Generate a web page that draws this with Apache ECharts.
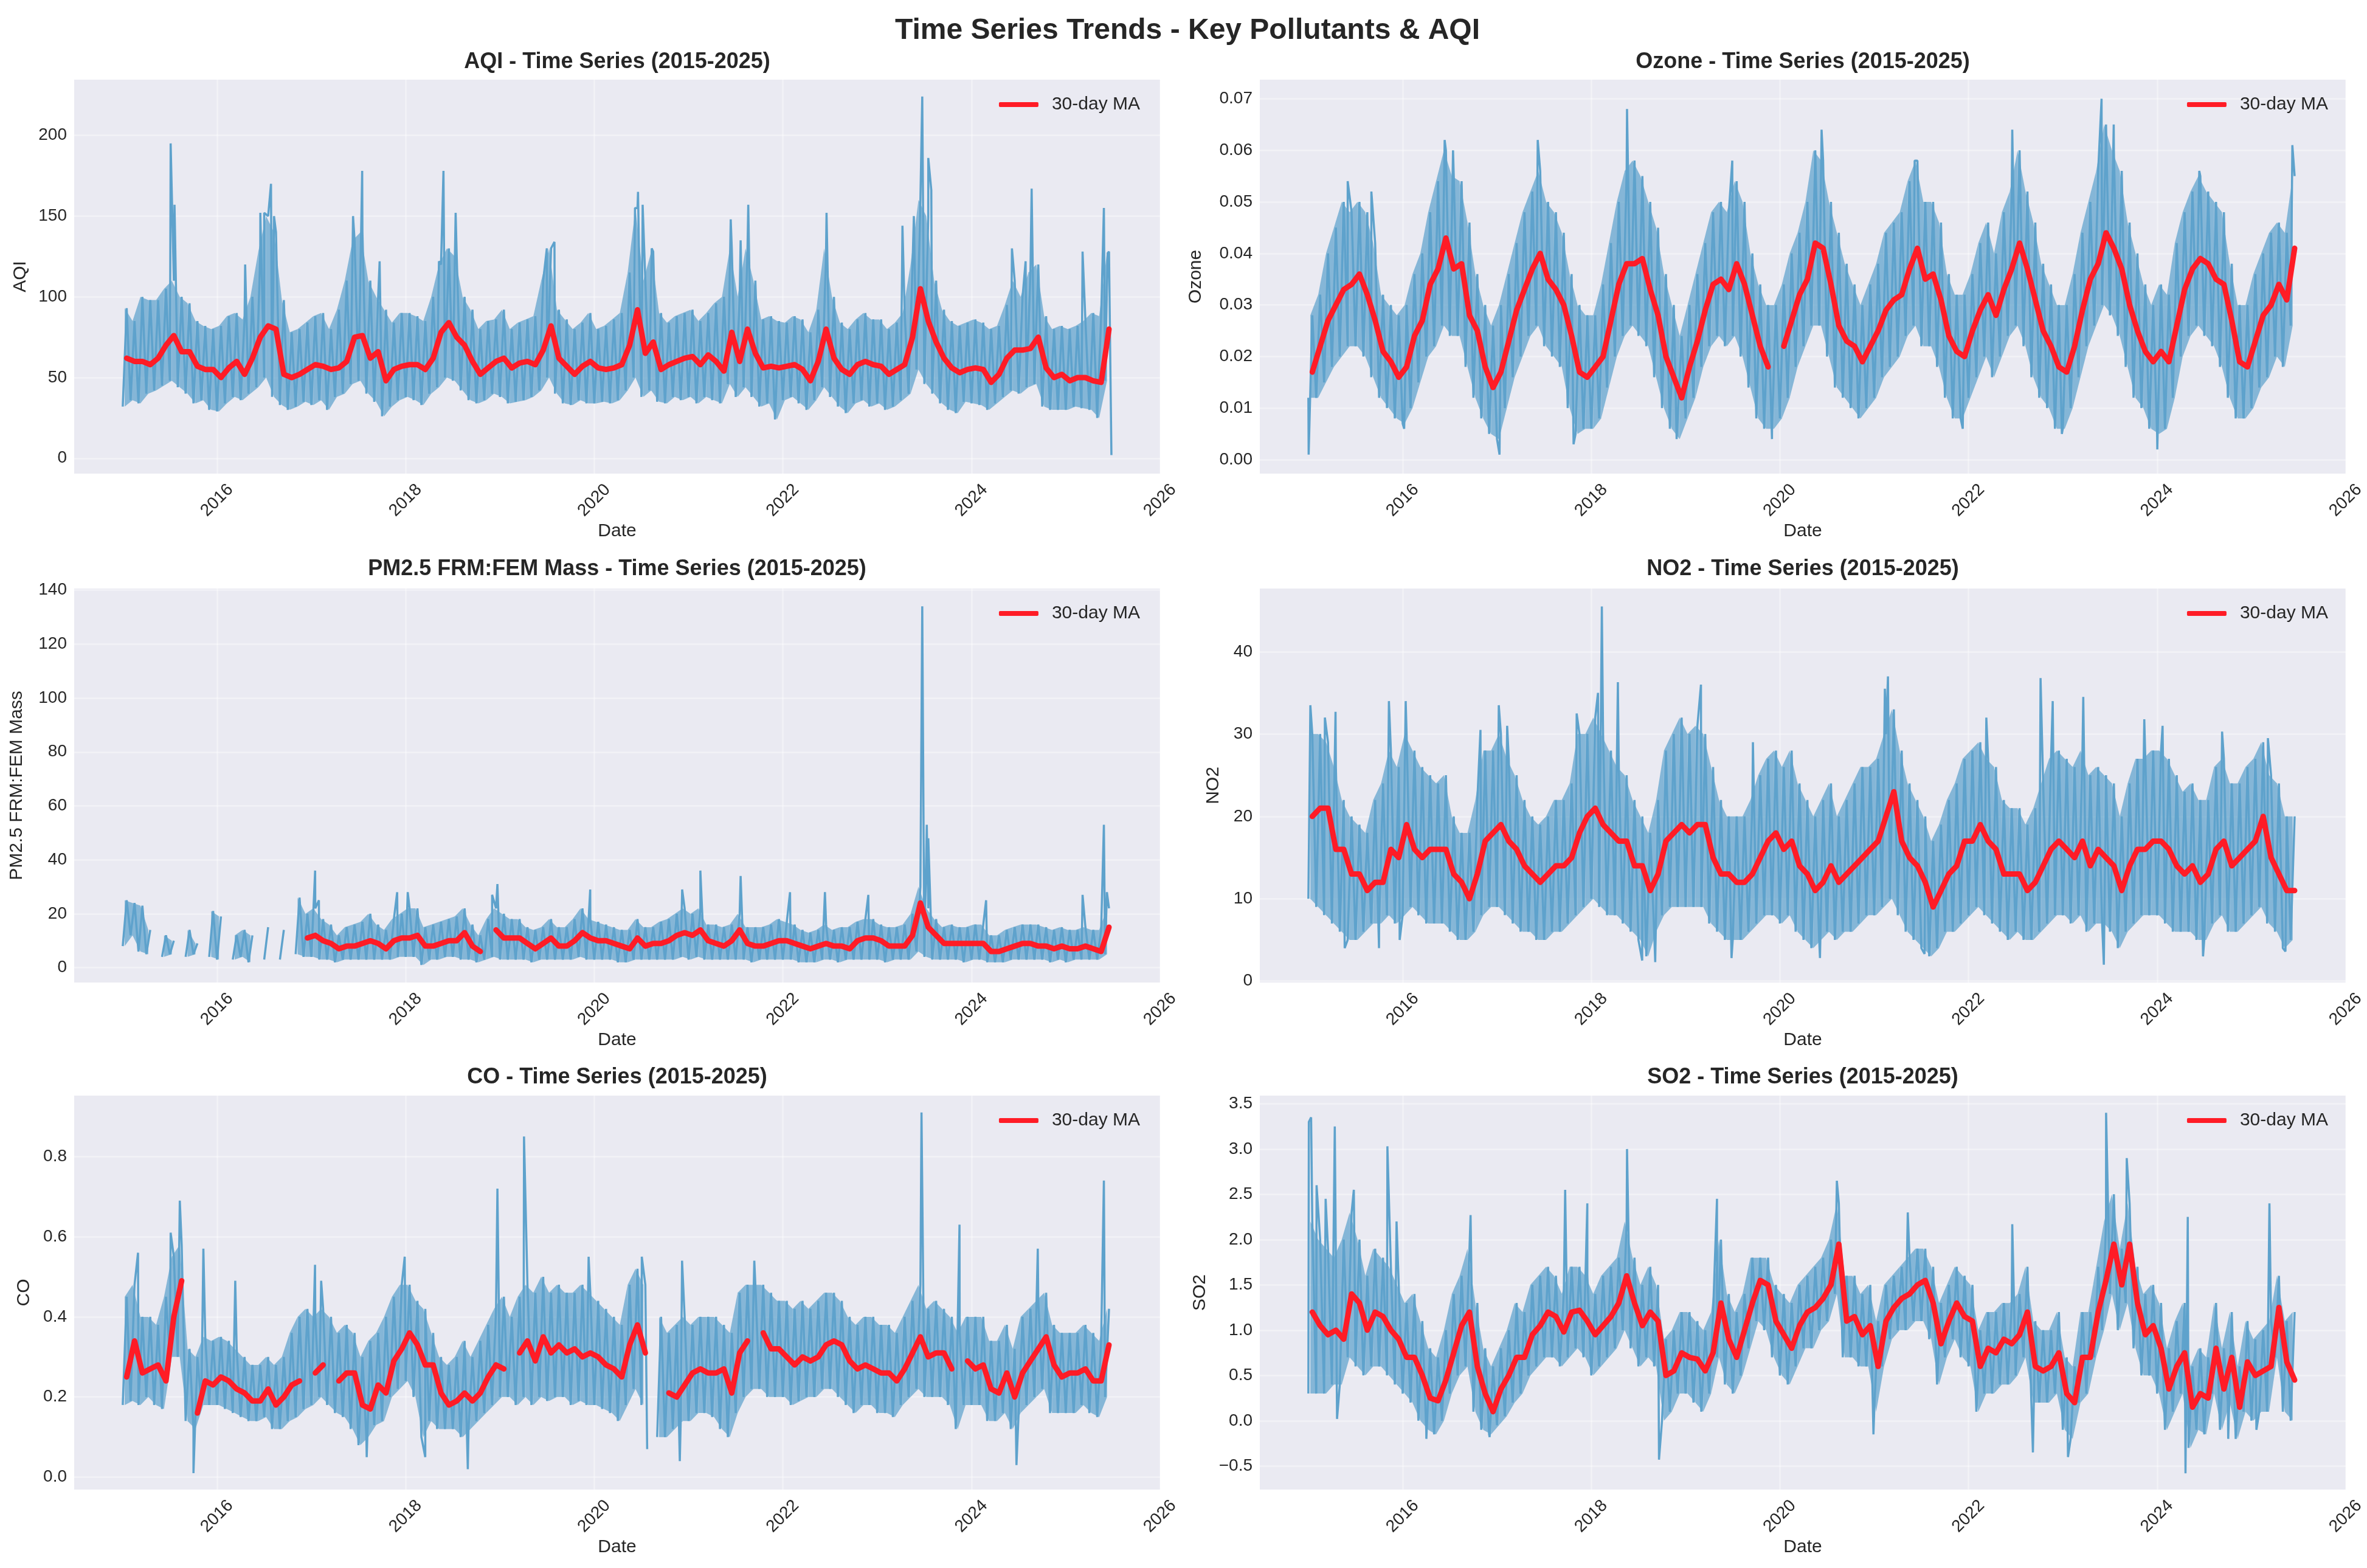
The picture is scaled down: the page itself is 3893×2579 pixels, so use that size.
<!DOCTYPE html>
<html>
<head>
<meta charset="utf-8">
<title>Time Series Trends - Key Pollutants & AQI</title>
<script src="https://cdn.jsdelivr.net/npm/echarts@6/dist/echarts.min.js"></script>
<style>
  html, body { margin: 0; padding: 0; background: #ffffff; }
  #chart { width: 3893px; height: 2579px; }
</style>
</head>
<body>
<div id="chart"></div>
<script>
// Daily records summarised month by month, Jan 2015 .. Jun 2025 (126 months):
// low / high of the daily band, the 30-day moving average, and the odd spikes.
const startYear = 2015;
const yearTicks = [2016, 2018, 2020, 2022, 2024, 2026];

// AQI
const aqiLow = [
  32,36,34,40,42,45,48,44,40,34,36,30,
  29,34,38,36,40,44,50,38,33,30,32,35,
  33,36,30,38,40,46,48,40,35,26,32,36,
  38,36,33,40,44,50,48,42,36,34,36,40,
  38,34,35,36,38,42,50,40,34,33,36,34,
  34,35,34,36,42,50,38,42,35,34,38,36,
  38,34,38,36,34,46,38,44,38,32,34,24,
  36,38,34,30,36,44,38,32,28,34,36,32,
  34,30,32,36,40,55,46,40,34,30,28,35,
  34,33,30,34,38,42,40,44,46,32,30,30,
  30,32,31,30,25,48];
const aqiHigh = [
  93,85,100,98,98,105,110,100,96,85,82,80,
  82,88,90,86,100,128,150,140,98,78,80,84,
  88,90,80,92,110,135,140,110,100,92,84,90,
  90,88,85,100,120,130,125,100,92,80,85,86,
  92,80,84,86,88,110,130,92,86,80,84,90,
  80,82,86,90,115,155,110,128,90,84,88,90,
  92,85,90,96,100,130,100,130,110,86,88,85,
  84,88,86,78,92,130,100,84,80,86,90,86,
  86,80,84,90,120,160,150,110,92,85,82,84,
  86,84,80,82,95,110,100,115,120,88,80,82,
  80,82,85,90,88,128];
const aqiMA = [
  62,60,60,58,62,70,76,66,66,57,55,55,
  50,56,60,52,62,75,82,80,52,50,52,55,
  58,57,55,56,60,75,76,62,66,48,55,57,
  58,58,55,62,78,84,75,70,60,52,56,60,
  62,56,59,60,58,67,82,62,57,52,57,60,
  56,55,56,58,70,92,65,72,55,58,60,62,
  63,58,64,60,54,78,60,80,65,56,57,56,
  57,58,55,48,60,80,62,55,52,58,60,58,
  57,52,55,58,75,105,85,72,62,56,53,55,
  56,55,47,52,62,67,67,68,75,56,50,52,
  48,50,50,48,47,80];
const aqiSpikes = [
  [2015.508,195],[2015.549,157],[2016.298,120],[2016.459,152],[2016.5,152],[2016.572,170],
  [2016.604,150],[2017.442,150],[2017.539,178],[2017.724,122],[2018.353,122],[2018.401,178],
  [2018.53,152],[2019.497,130],[2019.578,134],[2020.432,155],[2020.464,165],[2020.513,157],
  [2020.609,130],[2021.447,148],[2021.552,135],[2021.633,157],[2022.463,152],[2023.268,144],
  [2023.389,150],[2023.478,224],[2023.542,186],[2023.574,166],[2024.429,130],[2024.574,122],
  [2024.638,167],[2025.178,128],[2025.404,155],[2025.444,127],[2025.484,2]];
const aqiTicks = [0, 50, 100, 150, 200];

// Ozone
const ozoneLow = [
  .012,.012,.015,.018,.020,.022,.022,.020,.016,.012,.010,.008,
  .007,.010,.015,.020,.022,.026,.024,.024,.018,.012,.008,.005,
  .004,.010,.016,.020,.024,.026,.022,.020,.018,.010,.005,.006,
  .006,.008,.014,.020,.024,.026,.024,.022,.016,.010,.006,.004,
  .008,.012,.018,.022,.024,.022,.024,.020,.014,.008,.006,.006,
  .008,.012,.018,.022,.026,.026,.020,.014,.012,.010,.008,.010,
  .012,.016,.018,.020,.024,.026,.022,.022,.018,.012,.008,.008,
  .012,.016,.020,.016,.020,.024,.026,.022,.016,.012,.010,.006,
  .006,.010,.016,.022,.026,.030,.028,.024,.018,.012,.010,.006,
  .005,.006,.012,.020,.024,.026,.024,.022,.018,.012,.008,.008,
  .010,.014,.016,.020,.018,.026];
const ozoneHigh = [
  .028,.032,.040,.045,.050,.048,.050,.048,.042,.032,.030,.028,
  .030,.036,.040,.048,.054,.060,.055,.054,.046,.036,.030,.026,
  .030,.036,.042,.048,.052,.056,.050,.048,.044,.036,.030,.028,
  .028,.034,.042,.050,.056,.058,.055,.050,.045,.036,.030,.024,
  .030,.036,.042,.048,.050,.048,.054,.050,.040,.034,.030,.030,
  .034,.040,.044,.050,.060,.058,.050,.044,.038,.034,.030,.034,
  .038,.044,.046,.048,.054,.058,.050,.050,.046,.036,.032,.032,
  .036,.042,.046,.040,.048,.052,.060,.052,.046,.038,.034,.030,
  .030,.036,.044,.050,.056,.065,.060,.056,.046,.040,.034,.030,
  .034,.032,.042,.048,.052,.055,.052,.050,.048,.038,.030,.030,
  .036,.040,.044,.046,.044,.055];
const ozoneMA = [
  .017,.022,.027,.030,.033,.034,.036,.032,.027,.021,.019,.016,
  .018,.024,.027,.034,.037,.043,.037,.038,.028,.025,.018,.014,
  .017,.023,.029,.033,.037,.040,.035,.033,.030,.024,.017,.016,
  .018,.020,.027,.034,.038,.038,.039,.033,.028,.020,.016,.012,
  .018,.023,.029,.034,.035,.033,.038,.034,.028,.022,.018,null,
  .022,.027,.032,.035,.042,.041,.034,.026,.023,.022,.019,.022,
  .025,.029,.031,.032,.037,.041,.035,.036,.031,.024,.021,.020,
  .025,.029,.032,.028,.033,.037,.042,.037,.031,.025,.022,.018,
  .017,.022,.029,.035,.038,.044,.041,.037,.030,.025,.021,.019,
  .021,.019,.026,.033,.037,.039,.038,.035,.034,.027,.019,.018,
  .023,.028,.030,.034,.031,.041];
const ozoneSpikes = [
  [2015.003,0.001],[2015.417,0.054],[2015.668,0.052],[2016.016,0.006],[2016.445,0.062],
  [2016.534,0.060],[2017.027,0.001],[2017.432,0.062],[2017.812,0.003],[2018.379,0.068],
  [2018.905,0.004],[2019.495,0.058],[2019.916,0.004],[2020.442,0.064],[2021.429,0.058],
  [2021.939,0.006],[2022.464,0.064],[2022.99,0.005],[2023.411,0.070],[2023.459,0.065],
  [2023.54,0.065],[2024.002,0.002],[2024.447,0.056],[2025.434,0.061]];
const ozoneTicks = [0, 0.01, 0.02, 0.03, 0.04, 0.05, 0.06, 0.07];

// PM2.5 FRM/FEM Mass
const pmLow = [
  8,12,6,5,null,4,5,null,4,5,null,4,
  3,null,3,4,2,null,3,null,3,null,5,4,
  4,3,3,2,3,3,3,3,3,3,3,4,
  4,4,1,3,3,4,4,3,3,2,3,4,
  3,3,3,3,2,3,3,3,3,3,4,3,
  3,3,3,2,2,3,3,3,3,3,3,4,
  3,4,3,3,3,3,3,3,2,3,3,3,
  3,3,2,2,2,3,3,2,3,3,3,3,
  3,2,3,3,3,6,4,3,3,3,3,2,
  3,3,2,2,2,3,3,3,3,3,2,3,
  2,3,3,3,3,5];
const pmHigh = [
  25,24,23,14,null,12,10,null,14,9,null,21,
  19,null,12,14,12,null,15,null,14,null,26,20,
  22,18,16,12,15,16,17,20,16,14,18,20,
  22,22,15,16,17,18,19,22,16,12,18,22,
  20,18,18,15,14,15,18,15,15,18,22,18,
  17,16,15,14,14,18,15,15,17,18,20,22,
  20,22,16,16,15,16,20,15,15,15,16,18,
  17,16,14,13,14,16,14,15,15,17,18,18,
  16,15,15,16,20,30,22,18,15,16,15,15,
  16,16,12,12,14,15,16,16,16,15,14,15,
  14,14,15,14,14,22];
const pmMA = [
  null,null,null,null,null,null,null,null,null,null,null,null,
  null,null,null,null,null,null,null,null,null,null,null,11,
  12,10,9,7,8,8,9,10,9,7,10,11,
  11,12,8,8,9,10,10,13,8,6,null,14,
  11,11,11,9,7,9,11,8,8,10,13,11,
  10,10,9,8,7,11,8,9,9,10,12,13,
  12,14,10,9,8,10,14,9,8,8,9,10,
  10,9,8,7,8,9,8,8,7,10,11,11,
  10,8,8,8,12,24,15,12,9,9,9,9,
  9,9,6,6,7,8,9,9,8,8,7,8,
  7,7,8,7,6,15];
const pmSpikes = [
  [2017.04,36],[2017.08,25],[2017.91,28],[2018.022,28],[2018.917,27],[2018.973,31],
  [2019.957,29],[2020.932,29],[2021.125,36],[2021.552,34],[2022.076,28],[2022.446,28],
  [2022.906,27],[2023.478,134],[2023.526,53],[2023.542,48],[2024.155,25],[2025.178,27],
  [2025.404,53],[2025.436,28]];
const pmTicks = [0, 20, 40, 60, 80, 100, 120, 140];

// NO2
const no2Low = [
  10,9,8,7,6,5,5,6,7,7,8,7,
  8,9,8,7,7,7,6,5,5,6,8,9,
  9,8,7,6,6,5,5,6,6,7,8,9,
  10,9,8,8,7,6,5,3,6,8,9,9,
  9,9,9,7,6,5,5,5,6,7,8,8,
  7,8,6,5,4,5,6,5,6,6,7,8,
  8,9,10,8,6,5,4,3,4,6,6,7,
  8,9,8,7,6,5,6,5,5,6,7,8,
  8,7,8,6,7,7,6,4,6,7,8,8,
  8,7,6,6,6,5,5,7,8,6,6,7,
  8,9,7,6,4,5];
const no2High = [
  30,30,29,26,22,20,19,18,22,24,28,26,
  30,28,26,25,24,25,20,18,18,22,28,28,
  30,27,25,22,20,19,20,22,22,24,30,30,
  32,30,28,26,25,22,20,18,22,28,30,32,
  30,31,30,26,22,20,20,20,22,25,27,28,
  26,28,24,22,20,22,24,20,22,24,26,26,
  27,30,33,28,24,22,20,17,19,22,24,27,
  28,29,27,26,22,21,21,19,21,24,27,28,
  27,26,28,25,26,25,24,20,24,27,27,28,
  28,27,25,23,24,22,22,26,27,24,24,26,
  27,29,25,24,20,20];
const no2MA = [
  20,21,21,16,16,13,13,11,12,12,16,15,
  19,16,15,16,16,16,13,12,10,13,17,18,
  19,17,16,14,13,12,13,14,14,15,18,20,
  21,19,18,17,17,14,14,11,13,17,18,19,
  18,19,19,15,13,13,12,12,13,15,17,18,
  16,17,14,13,11,12,14,12,13,14,15,16,
  17,20,23,17,15,14,12,9,11,13,14,17,
  17,19,17,16,13,13,13,11,12,14,16,17,
  16,15,17,14,16,15,14,11,14,16,16,17,
  17,16,14,13,14,12,13,16,17,14,15,16,
  17,20,15,13,11,11];
const no2Spikes = [
  [2015.021,33.5],[2015.175,32],[2015.288,32.7],[2015.385,4],[2015.749,4],[2015.854,34],
  [2015.968,5],[2016.032,34],[2016.825,30.5],[2017.019,33.5],[2017.108,31],[2017.845,32.5],
  [2018.071,35],[2018.112,45.5],[2018.282,36.3],[2018.54,2.5],[2018.678,2.3],[2018.969,32],
  [2019.163,36],[2019.487,2.8],[2019.714,29],[2020.425,2.8],[2021.113,35.5],[2021.146,37],
  [2021.534,3.3],[2022.189,32],[2022.764,36.8],[2022.893,34],[2023.217,34.5],[2023.435,2],
  [2023.864,31.8],[2024.058,31],[2024.487,3],[2024.689,30.3],[2025.175,29.5],[2025.361,3.6]];
const no2Ticks = [0, 10, 20, 30, 40];

// CO
const coLow = [
  .18,.19,.18,.20,.18,.17,.30,.30,.14,.12,.18,.18,
  .18,.17,.16,.15,.14,.14,.15,.12,.12,.14,.15,.17,
  .18,.20,.18,.16,.15,.12,.08,.10,.13,.14,.20,.22,
  .24,.20,.10,.14,.12,.12,.12,.10,.12,.14,.16,.18,
  .20,.20,.18,.20,.18,.20,.19,.20,.20,.18,.19,.18,
  .18,.17,.16,.14,.18,.22,.18,null,.10,.10,.12,.14,
  .14,.16,.16,.15,.12,.10,.16,.20,.22,.22,.20,.20,
  .20,.18,.19,.20,.20,.22,.22,.20,.18,.16,.18,.18,
  .16,.16,.15,.18,.20,.22,.20,.20,.20,.18,.12,.18,
  .18,.18,.14,.14,.16,.12,.16,.18,.20,.22,.16,.16,
  .16,.16,.18,.16,.15,.20];
const coHigh = [
  .45,.48,.40,.40,.38,.45,.55,.58,.32,.30,.35,.34,
  .35,.34,.32,.30,.28,.28,.30,.28,.30,.36,.40,.42,
  .40,.42,.40,.36,.38,.36,.30,.34,.36,.40,.45,.48,
  .48,.44,.42,.36,.30,.28,.30,.34,.30,.34,.38,.42,
  .45,.40,.45,.48,.46,.50,.46,.48,.46,.46,.48,.46,
  .44,.42,.40,.38,.48,.52,.48,null,.40,.36,.38,.40,
  .38,.40,.40,.40,.38,.36,.46,.48,.48,.48,.46,.44,
  .44,.42,.44,.42,.44,.46,.46,.44,.40,.38,.40,.40,
  .38,.38,.36,.40,.44,.48,.42,.44,.42,.40,.36,.40,
  .40,.40,.34,.34,.38,.32,.40,.42,.44,.46,.38,.36,
  .36,.36,.38,.36,.34,.42];
const coMA = [
  .25,.34,.26,.27,.28,.24,.40,.49,null,.16,.24,.23,
  .25,.24,.22,.21,.19,.19,.22,.18,.20,.23,.24,null,
  .26,.28,null,.24,.26,.26,.18,.17,.23,.21,.29,.32,
  .36,.33,.28,.28,.21,.18,.19,.21,.19,.21,.25,.28,
  .27,null,.31,.34,.29,.35,.31,.33,.31,.32,.30,.31,
  .30,.28,.27,.25,.33,.38,.31,null,null,.21,.20,.23,
  .26,.27,.26,.26,.27,.21,.31,.34,null,.36,.32,.32,
  .30,.28,.30,.29,.30,.33,.34,.33,.29,.27,.28,.27,
  .26,.26,.24,.27,.31,.35,.30,.31,.31,.27,null,.29,
  .27,.28,.22,.21,.26,.20,.26,.29,.32,.35,.28,.25,
  .26,.26,.27,.24,.24,.33];
const coSpikes = [
  [2015.162,0.56],[2015.508,0.61],[2015.605,0.69],[2015.75,0.01],[2015.855,0.57],
  [2016.193,0.49],[2017.039,0.53],[2017.104,0.49],[2017.587,0.05],[2017.99,0.55],
  [2018.208,0.05],[2018.659,0.02],[2018.973,0.72],[2019.255,0.85],[2019.94,0.55],
  [2020.504,0.55],[2020.561,0.07],[2020.907,0.04],[2020.931,0.54],[2021.697,0.54],
  [2023.47,0.91],[2023.873,0.63],[2024.477,0.03],[2024.703,0.57],[2025.404,0.74]];
const coTicks = [0, 0.2, 0.4, 0.6, 0.8];

// SO2
const so2Low = [
  .30,.30,.30,.40,.40,.70,.60,.50,.60,.60,.50,.40,
  .30,.20,.00,-.10,-.15,.00,.30,.50,.60,.10,-.10,-.15,
  -.05,.05,.20,.30,.50,.60,.70,.70,.60,.70,.80,.70,
  .50,.60,.70,.80,1.0,.80,.60,.70,.60,.00,.10,.30,
  .30,.20,.10,.30,.70,.40,.30,.50,.80,1.1,1.0,.70,
  .50,.40,.60,.80,.80,1.0,1.1,1.4,.70,.70,.60,.60,
  .10,.60,.90,1.0,1.0,1.1,1.1,.90,.40,.70,.90,.70,
  .60,.10,.30,.30,.40,.40,.50,.70,.20,.20,.20,.30,
  -.10,-.20,.20,.30,.70,1.0,1.4,1.0,1.3,.80,.50,.50,
  .30,-.10,.10,.30,-.30,-.10,-.15,.30,-.10,.20,-.20,.10,
  .00,.10,.10,.70,.10,.00];
const so2High = [
  2.2,2.0,1.9,1.8,2.0,2.3,2.0,1.6,1.9,1.8,1.7,1.5,
  1.3,1.4,1.1,.80,.70,1.0,1.4,1.6,1.9,1.3,.80,.60,
  .80,1.0,1.3,1.2,1.5,1.6,1.7,1.6,1.4,1.7,1.7,1.6,
  1.4,1.6,1.7,1.8,2.2,1.8,1.5,1.7,1.5,.90,1.0,1.2,
  1.2,1.1,1.0,1.2,2.0,1.4,1.2,1.4,1.8,1.8,1.8,1.5,
  1.4,1.3,1.5,1.6,1.7,1.8,2.0,2.4,1.6,1.6,1.4,1.5,
  1.1,1.5,1.6,1.7,1.8,1.9,1.9,1.7,1.3,1.5,1.7,1.6,
  1.5,1.0,1.2,1.2,1.3,1.3,1.4,1.7,1.1,1.0,1.0,1.2,
  .70,.60,1.2,1.2,1.7,2.2,2.5,1.9,2.4,1.7,1.4,1.5,
  1.3,.80,1.1,1.3,.60,.80,.70,1.3,.80,1.2,.60,1.1,
  .90,1.0,1.1,1.6,1.1,1.2];
const so2MA = [
  1.2,1.05,.95,1.0,.9,1.4,1.3,1.0,1.2,1.15,1.0,.9,
  .7,.7,.5,.25,.22,.45,.75,1.05,1.2,.6,.3,.1,
  .35,.5,.7,.7,.95,1.05,1.2,1.15,.98,1.2,1.22,1.1,
  .95,1.05,1.15,1.3,1.6,1.3,1.05,1.2,1.1,.5,.55,.75,
  .7,.68,.55,.75,1.3,.9,.7,1.0,1.3,1.55,1.5,1.1,
  .95,.8,1.05,1.2,1.25,1.35,1.5,1.95,1.1,1.15,.95,1.05,
  .6,1.1,1.25,1.35,1.4,1.5,1.55,1.3,.85,1.1,1.3,1.15,
  1.1,.6,.8,.75,.9,.85,.95,1.2,.6,.55,.6,.75,
  .3,.2,.7,.7,1.2,1.55,1.95,1.5,1.95,1.3,.95,1.05,
  .8,.35,.6,.75,.15,.3,.25,.8,.35,.7,.15,.65,
  .5,.55,.6,1.25,.65,.45];
const so2Spikes = [
  [2015.005,3.3],[2015.029,3.35],[2015.087,2.6],[2015.183,2.45],[2015.28,3.25],[2015.304,0.02],
  [2015.482,2.55],[2015.838,3.03],[2015.935,2.2],[2016.251,-0.2],[2016.72,2.27],[2016.922,-0.18],
  [2017.723,2.55],[2017.958,2.4],[2018.379,3.0],[2018.718,-0.43],[2019.333,2.45],[2020.604,2.65],
  [2020.992,-0.15],[2021.356,2.3],[2022.464,2.17],[2022.683,-0.35],[2023.055,-0.4],[2023.459,3.4],
  [2023.678,2.9],[2024.301,-0.58],[2024.325,2.25],[2024.754,-0.2],[2025.053,-0.1],[2025.191,2.4]];
const so2Ticks = [-0.5, 0, 0.5, 1.0, 1.5, 2.0, 2.5, 3.0, 3.5];

const FONT = "'Liberation Sans', Arial, sans-serif";
const TEXT = '#262626';
const BLUE = '#5ea2cc';
const BAND = 'rgba(94,162,204,0.72)';
const RED = '#ff1c26';
const GRIDLINE = 'rgba(255,255,255,0.38)';

const panels = [
  { title: 'AQI - Time Series (2015-2025)', yName: 'AQI', lo: aqiLow, hi: aqiHigh, ma: aqiMA, spikes: aqiSpikes, ticks: aqiTicks, min: -9.5, max: 234.5, dec: 0, nameGap: 73 },
  { title: 'Ozone - Time Series (2015-2025)', yName: 'Ozone', lo: ozoneLow, hi: ozoneHigh, ma: ozoneMA, spikes: ozoneSpikes, ticks: ozoneTicks, min: -0.0027, max: 0.0737, dec: 2, nameGap: 90 },
  { title: 'PM2.5 FRM:FEM Mass - Time Series (2015-2025)', yName: 'PM2.5 FRM:FEM Mass', lo: pmLow, hi: pmHigh, ma: pmMA, spikes: pmSpikes, ticks: pmTicks, min: -5.5, max: 140.6, dec: 0, nameGap: 79 },
  { title: 'NO2 - Time Series (2015-2025)', yName: 'NO2', lo: no2Low, hi: no2High, ma: no2MA, spikes: no2Spikes, ticks: no2Ticks, min: -0.17, max: 47.67, dec: 0, nameGap: 61 },
  { title: 'CO - Time Series (2015-2025)', yName: 'CO', lo: coLow, hi: coHigh, ma: coMA, spikes: coSpikes, ticks: coTicks, min: -0.031, max: 0.952, dec: 1, nameGap: 67 },
  { title: 'SO2 - Time Series (2015-2025)', yName: 'SO2', lo: so2Low, hi: so2High, ma: so2MA, spikes: so2Spikes, ticks: so2Ticks, min: -0.76, max: 3.59, dec: 1, nameGap: 83 }
];

// grid layout (pixels)
const colLeft = [122, 2072];
const colWidth = 1786;
const rowTop = [131, 968, 1802];
const rowHeight = 648;
const titleTop = [84, 918, 1754];
const legendRight = [2018, 64];

// zigzag through each month's low and high, with the spikes slotted in by date
function rawPoints(lo, hi, spikes) {
  const pts = [];
  lo.forEach((v, i) => {
    const x0 = startYear + i / 12;
    const x1 = startYear + (i + 0.5) / 12;
    if (v == null) {
      pts.push([x0, null], [x1, null]);
    } else {
      pts.push([x0, v], [x1, hi[i]]);
    }
  });
  spikes.forEach(s => pts.push(s));
  pts.sort((a, b) => a[0] - b[0]);
  return pts;
}

// one band piece between two neighbouring months: [x0, lo0, hi0, x1, lo1, hi1]
function bandPieces(lo, hi) {
  const out = [];
  for (let i = 0; i + 1 < lo.length; i++) {
    if (lo[i] == null || lo[i + 1] == null) continue;
    out.push([startYear + (i + 0.25) / 12, lo[i], hi[i],
              startYear + (i + 1.25) / 12, lo[i + 1], hi[i + 1]]);
  }
  return out;
}

function renderBand(params, api) {
  const a0 = api.coord([api.value(0), api.value(1)]);
  const b0 = api.coord([api.value(0), api.value(2)]);
  const a1 = api.coord([api.value(3), api.value(4)]);
  const b1 = api.coord([api.value(3), api.value(5)]);
  return {
    type: 'polygon',
    shape: { points: [a0, a1, b1, b0] },
    style: { fill: BAND },
    silent: true
  };
}

const option = {
  animation: false,
  textStyle: { fontFamily: FONT, color: TEXT },
  title: [{
    text: 'Time Series Trends - Key Pollutants & AQI',
    left: 1953, top: 27, textAlign: 'center', padding: 0,
    textStyle: { fontSize: 48, fontWeight: 'bold', color: TEXT, fontFamily: FONT }
  }],
  legend: [],
  grid: [],
  xAxis: [],
  yAxis: [],
  series: []
};

panels.forEach((p, k) => {
  const col = k % 2;
  const row = Math.floor(k / 2);

  option.grid.push({
    left: colLeft[col], top: rowTop[row], width: colWidth, height: rowHeight,
    show: true, backgroundColor: '#eaeaf2', borderWidth: 0
  });

  option.title.push({
    text: p.title,
    left: colLeft[col] + colWidth / 2, top: titleTop[row], textAlign: 'center', padding: 0,
    textStyle: { fontSize: 36, fontWeight: 'bold', color: TEXT, fontFamily: FONT }
  });

  option.legend.push({
    data: ['30-day MA'],
    right: legendRight[col], top: rowTop[row] + 26,
    padding: 0, selectedMode: false,
    icon: 'roundRect', itemWidth: 65, itemHeight: 8,
    itemStyle: { color: RED },
    textStyle: { fontSize: 30, color: TEXT, fontFamily: FONT, padding: [0, 0, 0, 17] }
  });

  option.xAxis.push({
    gridIndex: k, type: 'value', min: 2014.485, max: 2026,
    axisLine: { show: false },
    axisTick: { show: false, customValues: yearTicks },
    axisLabel: {
      customValues: yearTicks, rotate: 45, align: 'center', verticalAlign: 'middle',
      margin: 44, fontSize: 28, color: TEXT, fontFamily: FONT,
      formatter: v => String(Math.round(v))
    },
    splitLine: { show: true, lineStyle: { color: GRIDLINE, width: 2.5 } },
    name: 'Date', nameLocation: 'middle', nameGap: 80,
    nameTextStyle: { fontSize: 30, color: TEXT, fontFamily: FONT }
  });

  option.yAxis.push({
    gridIndex: k, type: 'value', min: p.min, max: p.max,
    axisLine: { show: false },
    axisTick: { show: false, customValues: p.ticks },
    axisLabel: {
      customValues: p.ticks, margin: 12, fontSize: 28, color: TEXT, fontFamily: FONT,
      formatter: v => v.toFixed(p.dec).replace('-', '\u2212')
    },
    splitLine: { show: true, lineStyle: { color: GRIDLINE, width: 2.5 } },
    name: p.yName, nameLocation: 'middle', nameGap: p.nameGap,
    nameTextStyle: { fontSize: 30, color: TEXT, fontFamily: FONT }
  });

  // dense core of the daily values
  option.series.push({
    type: 'custom', xAxisIndex: k, yAxisIndex: k, silent: true,
    data: bandPieces(p.lo, p.hi),
    renderItem: renderBand,
    clip: true
  });

  // daily values
  option.series.push({
    type: 'line', xAxisIndex: k, yAxisIndex: k,
    data: rawPoints(p.lo, p.hi, p.spikes),
    showSymbol: false, silent: true,
    lineStyle: { color: BLUE, width: 3.5 }
  });

  // 30-day moving average
  option.series.push({
    name: '30-day MA', type: 'line', xAxisIndex: k, yAxisIndex: k,
    data: p.ma.map((v, i) => [startYear + (i + 0.5) / 12, v]),
    showSymbol: false, silent: true, color: RED,
    lineStyle: { color: RED, width: 9, cap: 'round', join: 'round' }
  });
});

const chart = echarts.init(document.getElementById('chart'), null, { renderer: 'canvas' });
chart.setOption(option);
window.addEventListener('resize', () => chart.resize());
</script>
</body>
</html>
